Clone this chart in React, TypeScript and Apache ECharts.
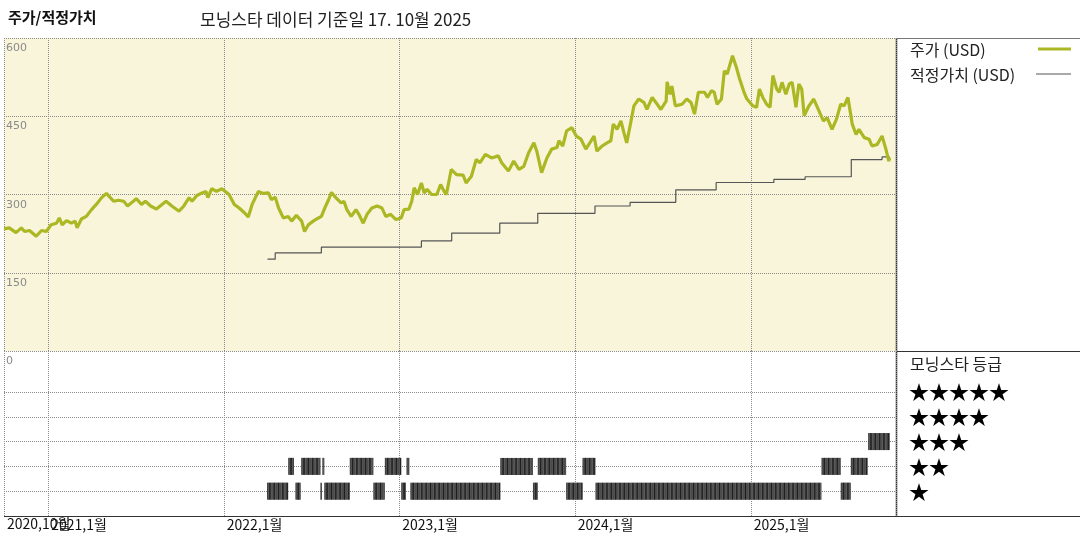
import React, { useEffect, useRef } from "react";
import * as echarts from "echarts";

// ---------- DATA ----------
const xMin = "2020-10-01";
const xMax = "2025-10-30";
const xMinLabel = "2020,10월";

const priceDates = [
  "2020-10-01","2020-10-12","2020-10-26","2020-11-06","2020-11-13","2020-11-23","2020-12-07","2020-12-18","2020-12-28",
  "2021-01-07","2021-01-18","2021-01-24","2021-01-30","2021-02-08","2021-02-18","2021-02-26","2021-03-02","2021-03-11","2021-03-21",
  "2021-04-01","2021-04-11","2021-04-22","2021-05-02","2021-05-10","2021-05-17","2021-05-27","2021-06-07","2021-06-15","2021-06-23",
  "2021-07-03","2021-07-14","2021-07-22","2021-08-02","2021-08-14","2021-09-03","2021-09-15","2021-09-30","2021-10-10","2021-10-21",
  "2021-10-27","2021-11-06","2021-11-17","2021-11-25","2021-11-29","2021-12-07","2021-12-17","2021-12-28",
  "2022-01-08","2022-01-12","2022-01-23","2022-02-02","2022-02-13","2022-02-21","2022-03-01","2022-03-14","2022-03-24","2022-04-04",
  "2022-04-10","2022-04-18","2022-04-25","2022-05-05","2022-05-15","2022-05-22","2022-06-01","2022-06-12","2022-06-18","2022-06-26",
  "2022-07-06","2022-07-17","2022-07-23","2022-08-01","2022-08-07","2022-08-13","2022-08-22","2022-09-02","2022-09-08","2022-09-14",
  "2022-09-23","2022-10-03","2022-10-09","2022-10-18","2022-10-26","2022-11-05","2022-11-16","2022-11-26","2022-12-04","2022-12-14","2022-12-25",
  "2023-01-05","2023-01-11","2023-01-21","2023-01-27","2023-02-01","2023-02-08","2023-02-16","2023-02-22","2023-02-28","2023-03-09",
  "2023-03-20","2023-03-28","2023-04-05","2023-04-09","2023-04-19","2023-04-30","2023-05-14","2023-05-20","2023-05-31","2023-06-10",
  "2023-06-18","2023-06-29","2023-07-12","2023-07-26","2023-08-02","2023-08-16","2023-08-27","2023-09-07","2023-09-17","2023-09-27",
  "2023-10-08","2023-10-14","2023-10-24","2023-11-04","2023-11-14","2023-11-25","2023-11-29","2023-12-07","2023-12-15","2023-12-26",
  "2024-01-04","2024-01-14","2024-01-24","2024-02-04","2024-02-10","2024-02-16","2024-02-27","2024-03-08","2024-03-16","2024-03-21",
  "2024-03-29","2024-04-06","2024-04-12","2024-04-18","2024-04-27","2024-05-03","2024-05-13","2024-05-24","2024-05-30","2024-06-10",
  "2024-06-18","2024-06-28","2024-07-09","2024-07-11","2024-07-17","2024-07-21","2024-07-28","2024-08-11","2024-08-21","2024-08-30",
  "2024-09-06","2024-09-14","2024-09-27","2024-10-03","2024-10-11","2024-10-17","2024-10-23","2024-11-01","2024-11-07","2024-11-13",
  "2024-11-24","2024-12-02","2024-12-08","2024-12-18","2024-12-24",
  "2025-01-05","2025-01-13","2025-01-19","2025-01-26","2025-02-03","2025-02-10","2025-02-16","2025-02-24","2025-03-01","2025-03-07",
  "2025-03-15","2025-03-22","2025-03-28","2025-04-05","2025-04-11","2025-04-17","2025-04-22","2025-05-02","2025-05-12","2025-05-23",
  "2025-06-01","2025-06-09","2025-06-19","2025-06-28","2025-07-07","2025-07-14","2025-07-22","2025-07-31","2025-08-08","2025-08-14",
  "2025-08-25","2025-09-04","2025-09-10","2025-09-21","2025-10-01","2025-10-09","2025-10-15","2025-10-17"
];
const priceValues = [
  234,236,227,236,229,231,220,231,229,
  242,245,255,242,250,245,249,236,253,258,
  271,281,294,302,294,287,289,287,278,284,
  292,281,287,278,272,287,278,268,278,294,
  287,298,303,306,294,311,306,311,
  303,300,281,274,265,257,281,306,302,303,
  290,295,274,255,258,249,260,249,229,242,
  249,255,258,278,290,304,294,284,287,271,
  258,271,262,245,262,274,278,274,258,262,252,
  255,271,272,287,313,300,322,303,310,300,
  300,319,305,300,348,338,337,322,335,367,
  361,377,370,374,361,345,364,348,354,380,
  399,383,342,370,387,390,403,393,422,428,
  412,406,387,403,412,383,393,399,403,435,
  425,441,419,399,441,470,483,476,463,486,
  476,463,479,516,492,508,470,473,483,476,
  454,496,496,486,499,496,473,483,537,531,
  566,544,524,496,483,
  470,467,502,486,473,467,528,502,496,515,
  492,512,515,467,512,502,451,470,483,460,
  441,447,425,444,473,470,486,435,415,425,
  409,406,393,396,412,387,364,371
];

const fairDates = [
  "2022-04-02","2022-04-18","2022-07-23","2023-02-16","2023-04-20","2023-07-29","2023-10-16",
  "2024-02-12","2024-04-25","2024-07-29","2024-10-21","2025-02-18","2025-04-24","2025-07-29","2025-10-01","2025-10-17"
];
const fairValues = [176,188,199,211,226,245,264,278,285,309,323,329,334,367,372,372];

const ratingStart = [
  "2022-04-01","2022-05-15","2022-05-30","2022-06-11","2022-07-21","2022-07-25","2022-07-29","2022-09-20","2022-11-08",
  "2022-12-02","2023-01-05","2023-01-16","2023-01-24","2023-07-30","2023-10-06","2023-10-16","2023-12-14","2024-01-17",
  "2024-02-13","2025-05-28","2025-07-07","2025-07-28","2025-09-02"
];
const ratingEnd = [
  "2022-05-15","2022-05-27","2022-06-10","2022-07-21","2022-07-24","2022-07-29","2022-09-20","2022-11-08","2022-12-02",
  "2023-01-05","2023-01-15","2023-01-22","2023-07-30","2023-10-06","2023-10-16","2023-12-14","2024-01-17","2024-02-13",
  "2025-05-28","2025-07-07","2025-07-28","2025-09-01","2025-10-17"
];
const ratingLevel = [1,2,1,2,1,2,1,2,1,2,1,2,1,2,1,2,1,2,1,2,1,2,3];

const priceTicks = [0, 150, 300, 450, 600];
const starLevels = [1, 2, 3, 4, 5];

const titleLeft = "주가/적정가치";
const titleRight = "모닝스타 데이터 기준일 17. 10월 2025";
const legendPrice = "주가 (USD)";
const legendFair = "적정가치 (USD)";
const ratingTitle = "모닝스타 등급";

// ---------- HELPERS ----------
const t = (s: string) => {
  const [y, m, d] = s.split("-").map(Number);
  return new Date(y, m - 1, d).getTime();
};

const GREEN = "#abb824";
const FONT = "'Noto Sans CJK KR', 'Noto Sans', sans-serif";
const GRID_LINE = { type: "dotted" as const, color: "#8a8a8a", width: 1 };

export default function App() {
  const ref = useRef<HTMLDivElement>(null);

  useEffect(() => {
    if (!ref.current) return;
    const chart = echarts.init(ref.current, undefined, { renderer: "svg" });

    const priceData = priceDates.map((d, i) => [t(d), priceValues[i]]);
    const fairData = fairDates.map((d, i) => [t(d), fairValues[i]]);
    const ratingData = ratingStart.map((s, i) => [t(s), t(ratingEnd[i]), ratingLevel[i]]);

    const option: any = {
      animation: false,
      textStyle: { fontFamily: FONT },
      grid: [
        { left: 4, right: 184, top: 38, height: 313, backgroundColor: "#f9f5db", show: true, borderWidth: 0, outerBoundsMode: "none" },
        { left: 4, right: 184, top: 351, height: 165, show: false, outerBoundsMode: "none" },
      ],
      xAxis: [
        {
          type: "time", gridIndex: 0, min: t(xMin), max: t(xMax),
          axisLine: { show: false }, axisTick: { show: false }, axisLabel: { show: false },
          splitLine: { show: true, lineStyle: GRID_LINE },
        },
        {
          type: "time", gridIndex: 1, min: t(xMin), max: t(xMax),
          axisLine: { show: false }, axisTick: { show: false },
          splitLine: { show: true, lineStyle: GRID_LINE },
          axisLabel: {
            show: true, showMinLabel: false, showMaxLabel: false, hideOverlap: false,
            align: "left", margin: 1, padding: [0, 0, 0, 3],
            fontSize: 14, color: "#111", fontFamily: FONT,
            formatter: (v: number) => {
              const d = new Date(v);
              return `${d.getFullYear()},${d.getMonth() + 1}월`;
            },
          },
        },
      ],
      yAxis: [
        {
          type: "value", gridIndex: 0, min: priceTicks[0], max: priceTicks[priceTicks.length - 1], interval: 150,
          axisLine: { show: false }, axisTick: { show: false },
          splitLine: { show: true, lineStyle: GRID_LINE },
          axisLabel: {
            inside: true, align: "left", verticalAlign: "top", margin: 2, padding: [4, 0, 0, 0],
            fontSize: 11, color: "#8a8a8a", fontFamily: "'DejaVu Sans', sans-serif",
            showMinLabel: true, showMaxLabel: true,
          },
        },
        {
          type: "value", gridIndex: 1, position: "right", min: 0, max: 6.65, interval: 1,
          axisLine: { show: false }, axisTick: { show: false }, splitLine: { show: false },
          axisLabel: {
            margin: 13, fontSize: 20, lineHeight: 20, color: "#000", fontFamily: FONT,
            formatter: (v: number) => (starLevels.includes(v) ? "★".repeat(v) : ""),
          },
        },
      ],
      series: [
        {
          name: legendPrice, type: "line", xAxisIndex: 0, yAxisIndex: 0,
          data: priceData, showSymbol: false, symbol: "none",
          lineStyle: { color: GREEN, width: 3.2 }, z: 4,
        },
        {
          name: legendFair, type: "line", xAxisIndex: 0, yAxisIndex: 0, step: "end",
          data: fairData, showSymbol: false, symbol: "none",
          lineStyle: { color: "#555", width: 1.2 }, z: 3,
        },
        {
          name: "rating-grid", type: "line", xAxisIndex: 1, yAxisIndex: 1, data: [],
          markLine: {
            silent: true, symbol: ["none", "none"], label: { show: false },
            lineStyle: { type: "dotted", color: "#8a8a8a", width: 1 },
            data: starLevels.map((v) => ({ yAxis: v })),
          },
        },
        {
          name: ratingTitle, type: "custom", xAxisIndex: 1, yAxisIndex: 1,
          data: ratingData, encode: { x: [0, 1], y: 2 }, z: 5,
          renderItem: (_p: any, api: any) => {
            const s0 = api.value(0), e0 = api.value(1), lv = api.value(2);
            const s = api.coord([s0, lv]);
            const e = api.coord([e0, lv]);
            const h = 17;
            const top = s[1] - h / 2;
            const children: any[] = [
              { type: "rect", shape: { x: s[0], y: top, width: Math.max(e[0] - s[0], 1.5), height: h }, style: { fill: "#3c3c3c" } },
            ];
            const step = 3 * 86400000;
            let k = 0;
            for (let v = s0 + step; v < e0; v += step) {
              const p = api.coord([v, lv]);
              children.push({
                type: "line",
                shape: { x1: p[0], y1: top, x2: p[0], y2: top + h },
                style: { stroke: k % 3 === 1 ? "#111" : "#6a6a6a", lineWidth: 0.7 },
              });
              k++;
            }
            return { type: "group", children };
          },
        },
      ],
      graphic: [
        { type: "text", left: 8, top: 9, style: { text: titleLeft, font: `bold 15px ${FONT}`, fill: "#111" } },
        { type: "text", left: 200, top: 10, style: { text: titleRight, font: `17px ${FONT}`, fill: "#222" } },
        { type: "text", x: 7, y: 523, style: { text: xMinLabel, font: `14px ${FONT}`, fill: "#111", verticalAlign: "middle" } },
        { type: "line", shape: { x1: 896, y1: 38.5, x2: 1080, y2: 38.5 }, style: { stroke: "#777", lineWidth: 1 } },
        { type: "line", shape: { x1: 896.5, y1: 38, x2: 896.5, y2: 516 }, style: { stroke: "#333", lineWidth: 1.5 } },
        { type: "line", shape: { x1: 896, y1: 351.5, x2: 1080, y2: 351.5 }, style: { stroke: "#333", lineWidth: 1.2 } },
        { type: "line", shape: { x1: 4, y1: 516.5, x2: 1080, y2: 516.5 }, style: { stroke: "#333", lineWidth: 1.2 } },
        { type: "text", x: 910, y: 49, style: { text: legendPrice, font: `16px ${FONT}`, fill: "#222", verticalAlign: "middle" } },
        { type: "line", shape: { x1: 1038, y1: 49, x2: 1071, y2: 49 }, style: { stroke: GREEN, lineWidth: 3 } },
        { type: "text", x: 910, y: 74, style: { text: legendFair, font: `16px ${FONT}`, fill: "#222", verticalAlign: "middle" } },
        { type: "line", shape: { x1: 1036, y1: 74, x2: 1071, y2: 74 }, style: { stroke: "#555", lineWidth: 1 } },
        { type: "text", x: 910, y: 363, style: { text: ratingTitle, font: `16px ${FONT}`, fill: "#222", verticalAlign: "middle" } },
      ],
    };

    chart.setOption(option);
    return () => chart.dispose();
  }, []);

  return <div ref={ref} style={{ position: "fixed", left: 0, top: 0, width: 1080, height: 540 }} />;
}
